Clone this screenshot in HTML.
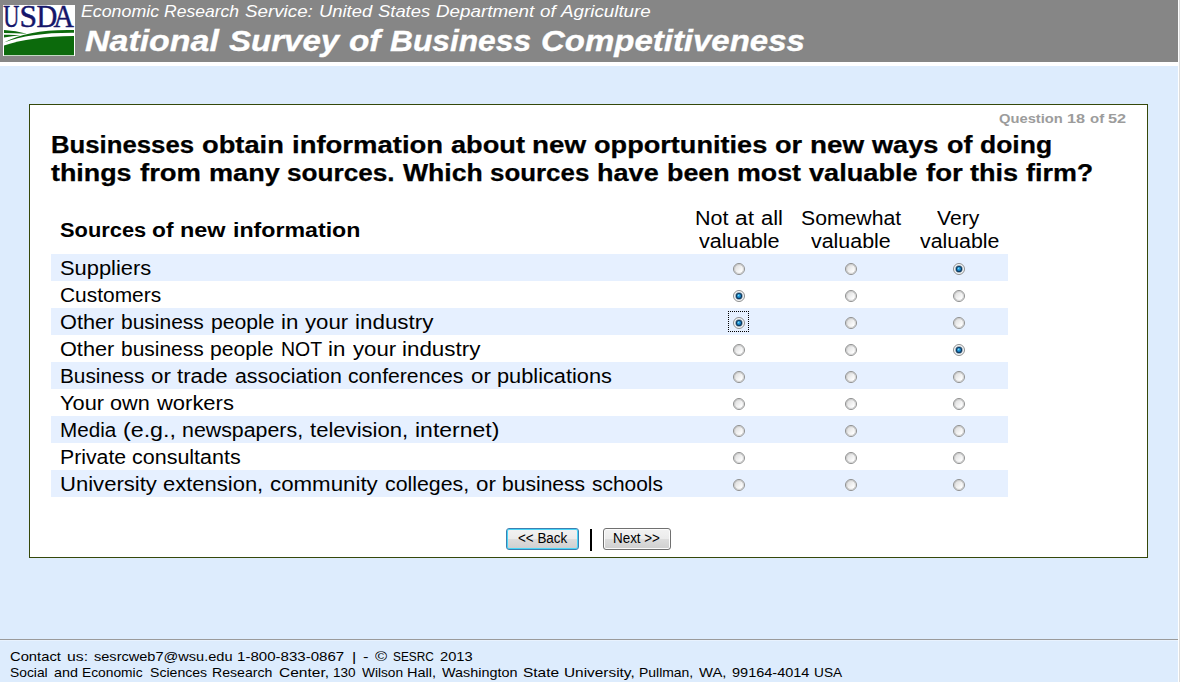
<!DOCTYPE html>
<html>
<head>
<meta charset="utf-8">
<title>National Survey of Business Competitiveness</title>
<style>
html,body{margin:0;padding:0;}
body{width:1180px;height:682px;overflow:hidden;background:#fff;font-family:"Liberation Sans",sans-serif;position:relative;}
#page{position:absolute;left:0;top:0;width:1178px;height:682px;background:#ddecfd;overflow:hidden;}
#edge{position:absolute;left:1179px;top:0;width:1px;height:682px;background:#dcdcdc;}
#hdr{position:absolute;left:0;top:0;width:1178px;height:62px;background:#868686;}
#hdrgap{position:absolute;left:0;top:62px;width:1178px;height:4px;background:#fff;}
#box{position:absolute;left:29px;top:104px;width:1117px;height:452px;border:1px solid #35480a;background:#fff;}
.stripe{position:absolute;left:51px;width:957px;height:27px;background:#e6f0ff;}
#fline{position:absolute;left:0;top:639px;width:1178px;height:1px;background:#9a9a9a;}
#fline2{position:absolute;left:0;top:640px;width:1178px;height:1px;background:#e8f2fe;}
.t{position:absolute;white-space:nowrap;transform-origin:0 0;line-height:1;color:#000;}
.btn{position:absolute;top:528px;height:20px;border:1px solid #707070;border-radius:3px;box-shadow:inset 0 0 0 1px #fcfcfc;background:linear-gradient(#f2f2f2 0,#ebebeb 50%,#dddddd 50%,#cfcfcf 100%);}
#back{left:506px;width:71px;border-color:#3c7fb1;box-shadow:inset 0 0 0 1px #48d6f8;}
#next{left:603px;width:66px;}
#pipe{position:absolute;left:590px;top:529px;width:2px;height:22px;background:#000;}
svg{position:absolute;left:0;top:0;}
</style>
</head>
<body>
<div id="page">
<div id="hdr"></div>
<div id="hdrgap"></div>
<div id="box"></div>
<div class="stripe" style="top:254px"></div>
<div class="stripe" style="top:308px"></div>
<div class="stripe" style="top:362px"></div>
<div class="stripe" style="top:416px"></div>
<div class="stripe" style="top:470px"></div>
<div id="fline"></div><div id="fline2"></div>
<div class="btn" id="back"></div>
<div id="pipe"></div>
<div class="btn" id="next"></div>
<svg width="1178" height="682" viewBox="0 0 1178 682">
<defs>
<linearGradient id="rg" x1="0" y1="0" x2="1" y2="1">
<stop offset="0.1" stop-color="#d9d9d9"/><stop offset="0.75" stop-color="#ffffff"/>
</linearGradient>
<radialGradient id="bg" cx="0.38" cy="0.32" r="0.7">
<stop offset="0" stop-color="#9fe4f7"/><stop offset="0.35" stop-color="#2aa6e4"/><stop offset="1" stop-color="#1577bd"/>
</radialGradient>
</defs>
<!-- USDA logo -->
<rect x="3" y="5" width="72" height="51" fill="#fff"/>
<g font-family="Liberation Serif, serif" font-size="32.5" fill="#15166a" stroke="#15166a" stroke-width="0.5">
<text transform="translate(3.15,27) scale(0.687,1)">U</text>
<text transform="translate(19.46,27) scale(0.971,1)">S</text>
<text transform="translate(36.41,27) scale(0.886,1)">D</text>
<text transform="translate(53.4,27) scale(0.870,1)">A</text>
</g>
<g fill="#0c6a0c">
<path d="M4,55.3 L4,45.5 Q30,36.5 74,36 L74,55.3 Z"/>
<path d="M74,30 Q28,29 4,42.6 Q30,32.5 74,32.8 Z"/>
<path d="M4,30 Q16,30.4 27,33.8 Q14,33 4,33 Z"/>
<path d="M4,34.8 Q12,34.5 20.5,35.2 Q12,36 4,37.5 Z"/>
</g>
<g transform="translate(739,269)"><circle r="5.5" fill="url(#rg)" stroke="#8e8f8f"/><circle r="4.4" fill="none" stroke="#bdbdbd" stroke-width="0.9" opacity="0.75"/></g>
<g transform="translate(851,269)"><circle r="5.5" fill="url(#rg)" stroke="#8e8f8f"/><circle r="4.4" fill="none" stroke="#bdbdbd" stroke-width="0.9" opacity="0.75"/></g>
<g transform="translate(959,269)"><circle r="5.5" fill="#f8f8f8" stroke="#8e8f8f"/><circle r="3.7" fill="#0e3a60" opacity="0.55"/><circle r="3.1" fill="#0e3a60"/><circle r="2.0" fill="url(#bg)"/></g>
<g transform="translate(739,296)"><circle r="5.5" fill="#f8f8f8" stroke="#8e8f8f"/><circle r="3.7" fill="#0e3a60" opacity="0.55"/><circle r="3.1" fill="#0e3a60"/><circle r="2.0" fill="url(#bg)"/></g>
<g transform="translate(851,296)"><circle r="5.5" fill="url(#rg)" stroke="#8e8f8f"/><circle r="4.4" fill="none" stroke="#bdbdbd" stroke-width="0.9" opacity="0.75"/></g>
<g transform="translate(959,296)"><circle r="5.5" fill="url(#rg)" stroke="#8e8f8f"/><circle r="4.4" fill="none" stroke="#bdbdbd" stroke-width="0.9" opacity="0.75"/></g>
<g transform="translate(739,323)"><circle r="5.5" fill="#f8f8f8" stroke="#8e8f8f"/><circle r="3.7" fill="#0e3a60" opacity="0.55"/><circle r="3.1" fill="#0e3a60"/><circle r="2.0" fill="url(#bg)"/></g>
<g transform="translate(851,323)"><circle r="5.5" fill="url(#rg)" stroke="#8e8f8f"/><circle r="4.4" fill="none" stroke="#bdbdbd" stroke-width="0.9" opacity="0.75"/></g>
<g transform="translate(959,323)"><circle r="5.5" fill="url(#rg)" stroke="#8e8f8f"/><circle r="4.4" fill="none" stroke="#bdbdbd" stroke-width="0.9" opacity="0.75"/></g>
<g transform="translate(739,350)"><circle r="5.5" fill="url(#rg)" stroke="#8e8f8f"/><circle r="4.4" fill="none" stroke="#bdbdbd" stroke-width="0.9" opacity="0.75"/></g>
<g transform="translate(851,350)"><circle r="5.5" fill="url(#rg)" stroke="#8e8f8f"/><circle r="4.4" fill="none" stroke="#bdbdbd" stroke-width="0.9" opacity="0.75"/></g>
<g transform="translate(959,350)"><circle r="5.5" fill="#f8f8f8" stroke="#8e8f8f"/><circle r="3.7" fill="#0e3a60" opacity="0.55"/><circle r="3.1" fill="#0e3a60"/><circle r="2.0" fill="url(#bg)"/></g>
<g transform="translate(739,377)"><circle r="5.5" fill="url(#rg)" stroke="#8e8f8f"/><circle r="4.4" fill="none" stroke="#bdbdbd" stroke-width="0.9" opacity="0.75"/></g>
<g transform="translate(851,377)"><circle r="5.5" fill="url(#rg)" stroke="#8e8f8f"/><circle r="4.4" fill="none" stroke="#bdbdbd" stroke-width="0.9" opacity="0.75"/></g>
<g transform="translate(959,377)"><circle r="5.5" fill="url(#rg)" stroke="#8e8f8f"/><circle r="4.4" fill="none" stroke="#bdbdbd" stroke-width="0.9" opacity="0.75"/></g>
<g transform="translate(739,404)"><circle r="5.5" fill="url(#rg)" stroke="#8e8f8f"/><circle r="4.4" fill="none" stroke="#bdbdbd" stroke-width="0.9" opacity="0.75"/></g>
<g transform="translate(851,404)"><circle r="5.5" fill="url(#rg)" stroke="#8e8f8f"/><circle r="4.4" fill="none" stroke="#bdbdbd" stroke-width="0.9" opacity="0.75"/></g>
<g transform="translate(959,404)"><circle r="5.5" fill="url(#rg)" stroke="#8e8f8f"/><circle r="4.4" fill="none" stroke="#bdbdbd" stroke-width="0.9" opacity="0.75"/></g>
<g transform="translate(739,431)"><circle r="5.5" fill="url(#rg)" stroke="#8e8f8f"/><circle r="4.4" fill="none" stroke="#bdbdbd" stroke-width="0.9" opacity="0.75"/></g>
<g transform="translate(851,431)"><circle r="5.5" fill="url(#rg)" stroke="#8e8f8f"/><circle r="4.4" fill="none" stroke="#bdbdbd" stroke-width="0.9" opacity="0.75"/></g>
<g transform="translate(959,431)"><circle r="5.5" fill="url(#rg)" stroke="#8e8f8f"/><circle r="4.4" fill="none" stroke="#bdbdbd" stroke-width="0.9" opacity="0.75"/></g>
<g transform="translate(739,458)"><circle r="5.5" fill="url(#rg)" stroke="#8e8f8f"/><circle r="4.4" fill="none" stroke="#bdbdbd" stroke-width="0.9" opacity="0.75"/></g>
<g transform="translate(851,458)"><circle r="5.5" fill="url(#rg)" stroke="#8e8f8f"/><circle r="4.4" fill="none" stroke="#bdbdbd" stroke-width="0.9" opacity="0.75"/></g>
<g transform="translate(959,458)"><circle r="5.5" fill="url(#rg)" stroke="#8e8f8f"/><circle r="4.4" fill="none" stroke="#bdbdbd" stroke-width="0.9" opacity="0.75"/></g>
<g transform="translate(739,485)"><circle r="5.5" fill="url(#rg)" stroke="#8e8f8f"/><circle r="4.4" fill="none" stroke="#bdbdbd" stroke-width="0.9" opacity="0.75"/></g>
<g transform="translate(851,485)"><circle r="5.5" fill="url(#rg)" stroke="#8e8f8f"/><circle r="4.4" fill="none" stroke="#bdbdbd" stroke-width="0.9" opacity="0.75"/></g>
<g transform="translate(959,485)"><circle r="5.5" fill="url(#rg)" stroke="#8e8f8f"/><circle r="4.4" fill="none" stroke="#bdbdbd" stroke-width="0.9" opacity="0.75"/></g>
<g stroke="#000" stroke-width="1" stroke-dasharray="1 1" shape-rendering="crispEdges" fill="none"><path d="M728,311.5H749"/><path d="M728,331.5H749"/><path d="M728.5,311V332"/><path d="M748.5,311V332"/></g>
</svg>
<span class="t" style="left:80.69px;top:3.03px;font-size:16.5px;transform:scaleX(1.0768);font-style:italic;color:#fff;">Economic</span>
<span class="t" style="left:164.45px;top:3.03px;font-size:16.5px;transform:scaleX(1.0632);font-style:italic;color:#fff;">Research</span>
<span class="t" style="left:245.28px;top:3.03px;font-size:16.5px;transform:scaleX(1.1373);font-style:italic;color:#fff;">Service:</span>
<span class="t" style="left:318.81px;top:3.03px;font-size:16.5px;transform:scaleX(1.1155);font-style:italic;color:#fff;">United</span>
<span class="t" style="left:377.77px;top:3.03px;font-size:16.5px;transform:scaleX(1.1154);font-style:italic;color:#fff;">States</span>
<span class="t" style="left:435.70px;top:3.03px;font-size:16.5px;transform:scaleX(1.1398);font-style:italic;color:#fff;">Department</span>
<span class="t" style="left:539.71px;top:3.03px;font-size:16.5px;transform:scaleX(1.1396);font-style:italic;color:#fff;">of</span>
<span class="t" style="left:561.14px;top:3.03px;font-size:16.5px;transform:scaleX(1.1379);font-style:italic;color:#fff;">Agriculture</span>
<span class="t" style="left:85.30px;top:27.35px;font-size:29px;transform:scaleX(1.1703);font-weight:bold;font-style:italic;color:#fff;-webkit-text-stroke:0.35px #fff;">National</span>
<span class="t" style="left:228.88px;top:27.35px;font-size:29px;transform:scaleX(1.1393);font-weight:bold;font-style:italic;color:#fff;-webkit-text-stroke:0.35px #fff;">Survey</span>
<span class="t" style="left:348.78px;top:27.35px;font-size:29px;transform:scaleX(1.1490);font-weight:bold;font-style:italic;color:#fff;-webkit-text-stroke:0.35px #fff;">of</span>
<span class="t" style="left:389.92px;top:27.35px;font-size:29px;transform:scaleX(1.0937);font-weight:bold;font-style:italic;color:#fff;-webkit-text-stroke:0.35px #fff;">Business</span>
<span class="t" style="left:540.63px;top:27.35px;font-size:29px;transform:scaleX(1.1370);font-weight:bold;font-style:italic;color:#fff;-webkit-text-stroke:0.35px #fff;">Competitiveness</span>
<span class="t" style="left:998.98px;top:113.16px;font-size:12.8px;transform:scaleX(1.1512);font-weight:bold;color:#9c9c9c;">Question</span>
<span class="t" style="left:1067.17px;top:113.16px;font-size:12.8px;transform:scaleX(1.2713);font-weight:bold;color:#9c9c9c;">18</span>
<span class="t" style="left:1089.61px;top:113.16px;font-size:12.8px;transform:scaleX(1.1684);font-weight:bold;color:#9c9c9c;">of</span>
<span class="t" style="left:1108.07px;top:113.16px;font-size:12.8px;transform:scaleX(1.2713);font-weight:bold;color:#9c9c9c;">52</span>
<span class="t" style="left:51.12px;top:133.53px;font-size:23px;transform:scaleX(1.1185);font-weight:bold;-webkit-text-stroke:0.25px #000;">Businesses</span>
<span class="t" style="left:201.97px;top:133.53px;font-size:23px;transform:scaleX(1.1857);font-weight:bold;-webkit-text-stroke:0.25px #000;">obtain</span>
<span class="t" style="left:291.62px;top:133.53px;font-size:23px;transform:scaleX(1.1946);font-weight:bold;-webkit-text-stroke:0.25px #000;">information</span>
<span class="t" style="left:450.57px;top:133.53px;font-size:23px;transform:scaleX(1.1814);font-weight:bold;-webkit-text-stroke:0.25px #000;">about</span>
<span class="t" style="left:532.37px;top:133.53px;font-size:23px;transform:scaleX(1.2091);font-weight:bold;-webkit-text-stroke:0.25px #000;">new</span>
<span class="t" style="left:594.30px;top:133.53px;font-size:23px;transform:scaleX(1.1789);font-weight:bold;-webkit-text-stroke:0.25px #000;">opportunities</span>
<span class="t" style="left:775.36px;top:133.53px;font-size:23px;transform:scaleX(1.1813);font-weight:bold;-webkit-text-stroke:0.25px #000;">or</span>
<span class="t" style="left:810.38px;top:133.53px;font-size:23px;transform:scaleX(1.2091);font-weight:bold;-webkit-text-stroke:0.25px #000;">new</span>
<span class="t" style="left:872.31px;top:133.53px;font-size:23px;transform:scaleX(1.1800);font-weight:bold;-webkit-text-stroke:0.25px #000;">ways</span>
<span class="t" style="left:946.54px;top:133.53px;font-size:23px;transform:scaleX(1.1726);font-weight:bold;-webkit-text-stroke:0.25px #000;">of</span>
<span class="t" style="left:979.85px;top:133.53px;font-size:23px;transform:scaleX(1.1514);font-weight:bold;-webkit-text-stroke:0.25px #000;">doing</span>
<span class="t" style="left:51.48px;top:161.53px;font-size:23px;transform:scaleX(1.1667);font-weight:bold;-webkit-text-stroke:0.25px #000;">things</span>
<span class="t" style="left:139.80px;top:161.53px;font-size:23px;transform:scaleX(1.1937);font-weight:bold;-webkit-text-stroke:0.25px #000;">from</span>
<span class="t" style="left:208.63px;top:161.53px;font-size:23px;transform:scaleX(1.1777);font-weight:bold;-webkit-text-stroke:0.25px #000;">many</span>
<span class="t" style="left:287.22px;top:161.53px;font-size:23px;transform:scaleX(1.1368);font-weight:bold;-webkit-text-stroke:0.25px #000;">sources.</span>
<span class="t" style="left:402.60px;top:161.53px;font-size:23px;transform:scaleX(1.1563);font-weight:bold;-webkit-text-stroke:0.25px #000;">Which</span>
<span class="t" style="left:490.20px;top:161.53px;font-size:23px;transform:scaleX(1.1254);font-weight:bold;-webkit-text-stroke:0.25px #000;">sources</span>
<span class="t" style="left:597.30px;top:161.53px;font-size:23px;transform:scaleX(1.1772);font-weight:bold;-webkit-text-stroke:0.25px #000;">have</span>
<span class="t" style="left:666.84px;top:161.53px;font-size:23px;transform:scaleX(1.1688);font-weight:bold;-webkit-text-stroke:0.25px #000;">been</span>
<span class="t" style="left:737.41px;top:161.53px;font-size:23px;transform:scaleX(1.1642);font-weight:bold;-webkit-text-stroke:0.25px #000;">most</span>
<span class="t" style="left:809.21px;top:161.53px;font-size:23px;transform:scaleX(1.1807);font-weight:bold;-webkit-text-stroke:0.25px #000;">valuable</span>
<span class="t" style="left:925.71px;top:161.53px;font-size:23px;transform:scaleX(1.1996);font-weight:bold;-webkit-text-stroke:0.25px #000;">for</span>
<span class="t" style="left:970.32px;top:161.53px;font-size:23px;transform:scaleX(1.1778);font-weight:bold;-webkit-text-stroke:0.25px #000;">this</span>
<span class="t" style="left:1026.31px;top:161.53px;font-size:23px;transform:scaleX(1.1693);font-weight:bold;-webkit-text-stroke:0.25px #000;">firm?</span>
<span class="t" style="left:59.60px;top:220.69px;font-size:19.5px;transform:scaleX(1.1199);font-weight:bold;">Sources</span>
<span class="t" style="left:152.40px;top:220.69px;font-size:19.5px;transform:scaleX(1.1663);font-weight:bold;">of</span>
<span class="t" style="left:180.48px;top:220.69px;font-size:19.5px;transform:scaleX(1.2026);font-weight:bold;">new</span>
<span class="t" style="left:232.71px;top:220.69px;font-size:19.5px;transform:scaleX(1.1882);font-weight:bold;">information</span>
<span class="t" style="left:694.67px;top:208.07px;font-size:20px;transform:scaleX(1.0750);">Not</span>
<span class="t" style="left:734.85px;top:208.07px;font-size:20px;transform:scaleX(1.1406);">at</span>
<span class="t" style="left:760.60px;top:208.07px;font-size:20px;transform:scaleX(1.0988);">all</span>
<span class="t" style="left:698.91px;top:231.07px;font-size:20px;transform:scaleX(1.0801);">valuable</span>
<span class="t" style="left:800.99px;top:208.07px;font-size:20px;transform:scaleX(1.0591);">Somewhat</span>
<span class="t" style="left:811.27px;top:231.07px;font-size:20px;transform:scaleX(1.0703);">valuable</span>
<span class="t" style="left:936.77px;top:208.07px;font-size:20px;transform:scaleX(1.0556);">Very</span>
<span class="t" style="left:919.91px;top:231.07px;font-size:20px;transform:scaleX(1.0662);">valuable</span>
<span class="t" style="left:59.56px;top:257.57px;font-size:20px;transform:scaleX(1.0943);">Suppliers</span>
<span class="t" style="left:59.83px;top:284.57px;font-size:20px;transform:scaleX(1.0462);">Customers</span>
<span class="t" style="left:60.02px;top:311.57px;font-size:20px;transform:scaleX(1.0861);">Other</span>
<span class="t" style="left:121.08px;top:311.57px;font-size:20px;transform:scaleX(1.0486);">business</span>
<span class="t" style="left:210.58px;top:311.57px;font-size:20px;transform:scaleX(1.0584);">people</span>
<span class="t" style="left:280.88px;top:311.57px;font-size:20px;transform:scaleX(1.1162);">in</span>
<span class="t" style="left:304.99px;top:311.57px;font-size:20px;transform:scaleX(1.1117);">your</span>
<span class="t" style="left:354.97px;top:311.57px;font-size:20px;transform:scaleX(1.1204);">industry</span>
<span class="t" style="left:60.01px;top:338.57px;font-size:20px;transform:scaleX(1.0846);">Other</span>
<span class="t" style="left:120.98px;top:338.57px;font-size:20px;transform:scaleX(1.0472);">business</span>
<span class="t" style="left:210.37px;top:338.57px;font-size:20px;transform:scaleX(1.0570);">people</span>
<span class="t" style="left:280.57px;top:338.57px;font-size:20px;transform:scaleX(0.9747);">NOT</span>
<span class="t" style="left:328.45px;top:338.57px;font-size:20px;transform:scaleX(1.1147);">in</span>
<span class="t" style="left:352.53px;top:338.57px;font-size:20px;transform:scaleX(1.1102);">your</span>
<span class="t" style="left:402.44px;top:338.57px;font-size:20px;transform:scaleX(1.1189);">industry</span>
<span class="t" style="left:59.72px;top:365.57px;font-size:20px;transform:scaleX(1.0387);">Business</span>
<span class="t" style="left:150.77px;top:365.57px;font-size:20px;transform:scaleX(1.1176);">or</span>
<span class="t" style="left:177.41px;top:365.57px;font-size:20px;transform:scaleX(1.1135);">trade</span>
<span class="t" style="left:234.93px;top:365.57px;font-size:20px;transform:scaleX(1.0672);">association</span>
<span class="t" style="left:348.47px;top:365.57px;font-size:20px;transform:scaleX(1.0590);">conferences</span>
<span class="t" style="left:470.60px;top:365.57px;font-size:20px;transform:scaleX(1.1176);">or</span>
<span class="t" style="left:497.24px;top:365.57px;font-size:20px;transform:scaleX(1.0882);">publications</span>
<span class="t" style="left:59.53px;top:392.57px;font-size:20px;transform:scaleX(1.0884);">Your</span>
<span class="t" style="left:110.29px;top:392.57px;font-size:20px;transform:scaleX(1.0812);">own</span>
<span class="t" style="left:156.73px;top:392.57px;font-size:20px;transform:scaleX(1.0978);">workers</span>
<span class="t" style="left:59.73px;top:419.57px;font-size:20px;transform:scaleX(1.0326);">Media</span>
<span class="t" style="left:122.71px;top:419.57px;font-size:20px;transform:scaleX(1.1617);">(e.g.,</span>
<span class="t" style="left:182.39px;top:419.57px;font-size:20px;transform:scaleX(1.0678);">newspapers,</span>
<span class="t" style="left:310.21px;top:419.57px;font-size:20px;transform:scaleX(1.1038);">television,</span>
<span class="t" style="left:415.11px;top:419.57px;font-size:20px;transform:scaleX(1.1488);">internet)</span>
<span class="t" style="left:59.58px;top:446.57px;font-size:20px;transform:scaleX(1.0622);">Private</span>
<span class="t" style="left:132.37px;top:446.57px;font-size:20px;transform:scaleX(1.0744);">consultants</span>
<span class="t" style="left:59.66px;top:473.57px;font-size:20px;transform:scaleX(1.1033);">University</span>
<span class="t" style="left:163.28px;top:473.57px;font-size:20px;transform:scaleX(1.0992);">extension,</span>
<span class="t" style="left:270.25px;top:473.57px;font-size:20px;transform:scaleX(1.1141);">community</span>
<span class="t" style="left:384.74px;top:473.57px;font-size:20px;transform:scaleX(1.0665);">colleges,</span>
<span class="t" style="left:475.69px;top:473.57px;font-size:20px;transform:scaleX(1.1183);">or</span>
<span class="t" style="left:502.34px;top:473.57px;font-size:20px;transform:scaleX(1.0533);">business</span>
<span class="t" style="left:592.24px;top:473.57px;font-size:20px;transform:scaleX(1.0452);">schools</span>
<span class="t" style="left:9.62px;top:649.83px;font-size:13.2px;transform:scaleX(1.1194);">Contact</span>
<span class="t" style="left:67.12px;top:649.83px;font-size:13.2px;transform:scaleX(1.1962);">us:</span>
<span class="t" style="left:93.62px;top:649.83px;font-size:13.2px;transform:scaleX(1.1034);">sesrcweb7@wsu.edu</span>
<span class="t" style="left:236.88px;top:649.83px;font-size:13.2px;transform:scaleX(1.1425);">1-800-833-0867</span>
<span class="t" style="left:351.77px;top:649.83px;font-size:13.2px;transform:scaleX(1.2500);">|</span>
<span class="t" style="left:362.92px;top:649.83px;font-size:13.2px;transform:scaleX(1.2500);">-</span>
<span class="t" style="left:374.92px;top:649.83px;font-size:13.2px;transform:scaleX(1.2500);">©</span>
<span class="t" style="left:392.92px;top:649.83px;font-size:13.2px;transform:scaleX(0.8985);">SESRC</span>
<span class="t" style="left:440.42px;top:649.83px;font-size:13.2px;transform:scaleX(1.1113);">2013</span>
<span class="t" style="left:9.50px;top:665.83px;font-size:13.2px;transform:scaleX(1.0490);">Social</span>
<span class="t" style="left:53.50px;top:665.83px;font-size:13.2px;transform:scaleX(1.0868);">and</span>
<span class="t" style="left:82.26px;top:665.83px;font-size:13.2px;transform:scaleX(1.0461);">Economic</span>
<span class="t" style="left:149.50px;top:665.83px;font-size:13.2px;transform:scaleX(1.0674);">Sciences</span>
<span class="t" style="left:212.23px;top:665.83px;font-size:13.2px;transform:scaleX(1.0698);">Research</span>
<span class="t" style="left:278.50px;top:665.83px;font-size:13.2px;transform:scaleX(1.1767);">Center,</span>
<span class="t" style="left:332.97px;top:665.83px;font-size:13.2px;transform:scaleX(1.0281);">130</span>
<span class="t" style="left:361.50px;top:665.83px;font-size:13.2px;transform:scaleX(1.0386);">Wilson</span>
<span class="t" style="left:407.40px;top:665.83px;font-size:13.2px;transform:scaleX(1.1025);">Hall,</span>
<span class="t" style="left:442.00px;top:665.83px;font-size:13.2px;transform:scaleX(1.0906);">Washington</span>
<span class="t" style="left:523.30px;top:665.83px;font-size:13.2px;transform:scaleX(1.1737);">State</span>
<span class="t" style="left:564.13px;top:665.83px;font-size:13.2px;transform:scaleX(1.1671);">University,</span>
<span class="t" style="left:639.25px;top:665.83px;font-size:13.2px;transform:scaleX(1.0565);">Pullman,</span>
<span class="t" style="left:699.00px;top:665.83px;font-size:13.2px;transform:scaleX(1.1262);">WA,</span>
<span class="t" style="left:732.00px;top:665.83px;font-size:13.2px;transform:scaleX(1.0997);">99164-4014</span>
<span class="t" style="left:814.26px;top:665.83px;font-size:13.2px;transform:scaleX(1.0372);">USA</span>
<span class="t" style="left:517.86px;top:531.52px;font-size:13.8px;transform:scaleX(0.9713);">&lt;&lt; Back</span>
<span class="t" style="left:612.97px;top:531.52px;font-size:13.8px;transform:scaleX(0.9714);">Next &gt;&gt;</span>
</div>
<div id="edge"></div>
</body>
</html>
